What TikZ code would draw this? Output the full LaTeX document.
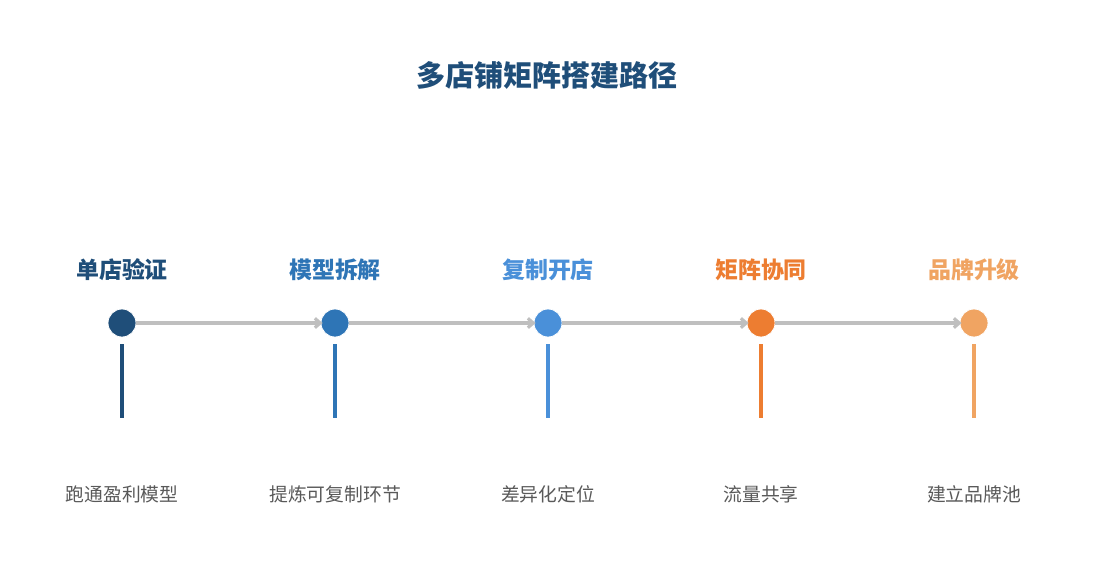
\documentclass[tikz,border=0pt]{standalone}
\usepackage{fontspec}
\newfontfamily\cjk{Noto Sans CJK SC}
\usetikzlibrary{arrows.meta}
\definecolor{cA}{HTML}{1F4E79}
\definecolor{cB}{HTML}{2E75B6}
\definecolor{cC}{HTML}{4A90D9}
\definecolor{cD}{HTML}{ED7D31}
\definecolor{cE}{HTML}{F0A462}
\definecolor{lineg}{HTML}{BFBFBF}
\definecolor{txtg}{HTML}{595959}
\tikzset{
  dot/.style={circle, fill=#1, draw=white, line width=0.6pt, minimum size=21pt, inner sep=0pt},
  stage/.style={text=#1, font=\cjk\bfseries\fontsize{17.2}{19}\selectfont, inner sep=0pt},
  desc/.style={text=txtg, font=\cjk\fontsize{14.1}{16}\selectfont, inner sep=0pt},
  stem/.style={draw=#1, line width=3pt},
  flow/.style={draw=lineg, line width=2.4pt, shorten >=-1.5pt, -{Straight Barb[length=4pt,width=7pt]}},
}
\begin{document}
\begin{tikzpicture}[x=0.75pt,y=-0.75pt]
\useasboundingbox[fill=white] (0,0) rectangle (1095,585);
\node[text=cA, font=\cjk\bfseries\fontsize{21.8}{24}\selectfont, inner sep=0pt] (title) at (547,75) {多店铺矩阵搭建路径};
\foreach \i/\x/\c/\s/\d in {1/122/cA/单店验证/跑通盈利模型, 2/335/cB/模型拆解/提炼可复制环节, 3/548/cC/复制开店/差异化定位, 4/761/cD/矩阵协同/流量共享, 5/974/cE/品牌升级/建立品牌池}{
  \node[stage=\c] (s\i) at (\x,270) {\s};
  \coordinate (t\i) at (\x,344);
  \coordinate (b\i) at (\x,418);
  \draw[stem=\c] (t\i) -- (b\i);
  \node[desc] (d\i) at (\x,494) {\d};
}
\foreach \i/\x/\c in {1/122/cA, 2/335/cB, 3/548/cC, 4/761/cD, 5/974/cE}{
  \node[dot=\c] (n\i) at (\x,323) {};
}
\foreach \a/\b in {1/2,2/3,3/4,4/5}{
  \draw[flow] (n\a.east) -- (n\b.west);
}
\end{tikzpicture}
\end{document}
